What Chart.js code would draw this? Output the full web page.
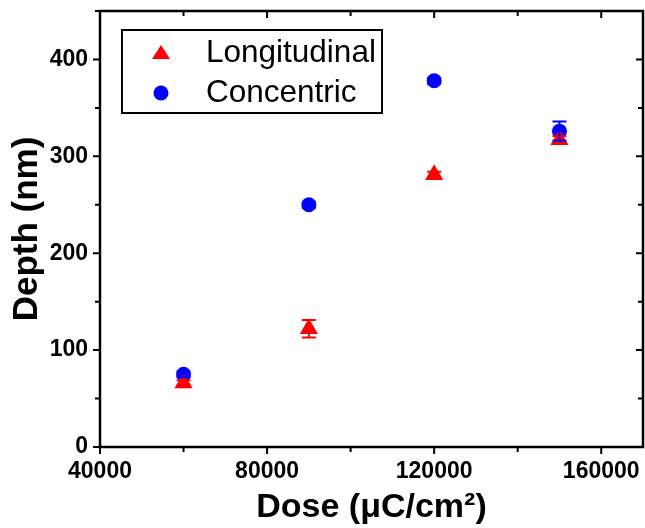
<!DOCTYPE html>
<html>
<head>
<meta charset="utf-8">
<script src="https://cdn.jsdelivr.net/npm/chart.js@4"></script>
<style>
  html, body { margin: 0; padding: 0; background: #fff; }
  #wrap { width: 645px; height: 528px; position: relative; }
</style>
</head>
<body>
<div id="wrap"><canvas id="depthChart"></canvas></div>
<script>
// Dose values (uC/cm^2) and measured depth (nm)
const doses = [60000, 90000, 120000, 150000];
const longDepth = [66, 122, 281, 317];
const longErr = [3, 9, 3, 4];
const concDepth = [75, 250, 378, 326];
const concErr = [3, 3, 3, 10];

const xTicks = [40000, 60000, 80000, 100000, 120000, 140000, 160000, 170000];
const yTicks = [0, 50, 100, 150, 200, 250, 300, 350, 400, 450];

const seriesNames = ['Longitudinal', 'Concentric'];
const xTitle = 'Dose (\u03bcC/cm\u00b2)';
const yTitle = 'Depth (nm)';

const FONT = '"Liberation Sans", Arial, sans-serif';

function toPoints(ys) {
    return doses.map((x, i) => ({ x: x, y: ys[i] }));
}

// error bars, frame, inward/outward ticks and legend box
const decorPlugin = {
    id: 'decor',
    afterDatasetsDraw(chart) {
        const ctx = chart.ctx;
        const xs = chart.scales.x, ys = chart.scales.y;
        const a = chart.chartArea;

        // error bars
        const errs = [longErr, concErr];
        chart.data.datasets.forEach((ds, di) => {
            ctx.save();
            ctx.strokeStyle = ds.backgroundColor;
            ctx.lineWidth = 2;
            ds.data.forEach((p, i) => {
                const px = xs.getPixelForValue(p.x);
                const top = ys.getPixelForValue(p.y + errs[di][i]);
                const bot = ys.getPixelForValue(p.y - errs[di][i]);
                ctx.beginPath();
                ctx.moveTo(px, top); ctx.lineTo(px, bot);
                ctx.moveTo(px - 7, top); ctx.lineTo(px + 7, top);
                ctx.moveTo(px - 7, bot); ctx.lineTo(px + 7, bot);
                ctx.stroke();
            });
            ctx.restore();
        });

        // frame + ticks (out on left/bottom, in on top/right)
        ctx.save();
        ctx.strokeStyle = '#000';
        ctx.lineWidth = 2.5;
        ctx.strokeRect(a.left, a.top, a.right - a.left, a.bottom - a.top);

        ctx.lineWidth = 2;
        ctx.beginPath();
        xs.ticks.forEach(t => {
            if (t.value % 20000 !== 0) return;
            const px = xs.getPixelForValue(t.value);
            const len = t.value % 40000 === 0 ? 7 : 5;
            ctx.moveTo(px, a.bottom); ctx.lineTo(px, a.bottom + len);
            ctx.moveTo(px, a.top); ctx.lineTo(px, a.top + len);
        });
        ys.ticks.forEach(t => {
            const py = ys.getPixelForValue(t.value);
            const len = t.value % 100 === 0 ? 7 : 5;
            ctx.moveTo(a.left, py); ctx.lineTo(a.left - len, py);
            ctx.moveTo(a.right, py); ctx.lineTo(a.right - len, py);
        });
        ctx.stroke();

        // legend
        const lx = 122, ly = 30, lw = 260, lh = 83;
        ctx.lineWidth = 2;
        ctx.strokeRect(lx, ly, lw, lh);
        ctx.font = '31.5px ' + FONT;
        ctx.fillStyle = '#000';
        ctx.textBaseline = 'middle';
        ctx.textAlign = 'left';
        ctx.fillText(seriesNames[0], 206, 53);
        ctx.fillText(seriesNames[1], 206, 93);

        ctx.fillStyle = 'red';
        ctx.beginPath();
        ctx.moveTo(161, 45); ctx.lineTo(170, 59); ctx.lineTo(152, 59);
        ctx.closePath(); ctx.fill();
        ctx.fillStyle = 'blue';
        ctx.beginPath();
        ctx.arc(161, 93, 7.5, 0, Math.PI * 2);
        ctx.fill();
        ctx.restore();
    }
};

const ctx = document.getElementById('depthChart').getContext('2d');
const depthChart = new Chart(ctx, {
    type: 'scatter',
    data: {
        datasets: [{
            label: seriesNames[0],
            data: toPoints(longDepth),
            pointStyle: 'triangle',
            pointRadius: 10.5,
            backgroundColor: 'red',
            borderColor: 'red',
            borderWidth: 0
        }, {
            label: seriesNames[1],
            data: toPoints(concDepth),
            pointStyle: 'circle',
            pointRadius: 7.5,
            backgroundColor: 'blue',
            borderColor: 'blue',
            borderWidth: 0
        }]
    },
    options: {
        responsive: true,
        maintainAspectRatio: false,
        animation: false,
        layout: { autoPadding: false, padding: { top: 0, left: 0, bottom: 0, right: 2 } },
        plugins: {
            legend: { display: false },
            tooltip: { enabled: false }
        },
        scales: {
            x: {
                type: 'linear',
                min: 40000,
                max: 170000,
                grid: { display: false },
                border: { display: false },
                afterBuildTicks: s => { s.ticks = xTicks.map(v => ({ value: v })); },
                ticks: {
                    maxRotation: 0,
                    autoSkip: false,
                    padding: 3,
                    color: '#000',
                    font: { family: FONT, size: 23, weight: 'bold' },
                    callback: v => (v % 40000 === 0 ? String(v) : '')
                },
                title: {
                    display: true,
                    text: xTitle,
                    color: '#000',
                    font: { family: FONT, size: 34, weight: 'bold' },
                    padding: { top: 4, bottom: 0 }
                },
                afterFit: s => {
                    s.height = 81;
                    s.paddingLeft = 0;
                    s.paddingRight = 0;
                }
            },
            y: {
                min: 0,
                max: 450,
                grid: { display: false },
                border: { display: false },
                afterBuildTicks: s => { s.ticks = yTicks.map(v => ({ value: v })); },
                ticks: {
                    autoSkip: false,
                    padding: 4,
                    color: '#000',
                    font: { family: FONT, size: 23, weight: 'bold' },
                    callback: v => (v % 100 === 0 ? String(v) : '')
                },
                title: {
                    display: true,
                    text: yTitle,
                    color: '#000',
                    font: { family: FONT, size: 35, weight: 'bold' },
                    padding: { top: 6, bottom: 0 }
                },
                afterFit: s => {
                    s.width = 100;
                    s.paddingTop = 11;
                    s.paddingBottom = 0;
                }
            }
        }
    },
    plugins: [decorPlugin]
});
</script>
</body>
</html>
